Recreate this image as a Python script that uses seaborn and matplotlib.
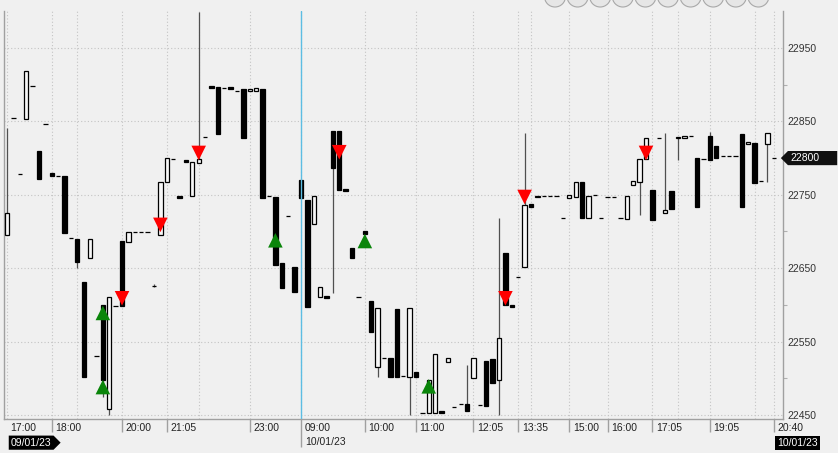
import numpy as np
import pandas as pd
import seaborn as sns
import matplotlib.pyplot as plt
from matplotlib.path import Path
from matplotlib.patches import Ellipse

# свечи
opens = [22695, 22855, 22778, 22853, 22898, 22810, 22847, 22779, 22776, 22776,
         22691, 22690, 22631, 22664, 22530, 22600, 22458, 22599, 22687, 22686,
         22699, 22699, 22699, 22626, 22695, 22767, 22799, 22749, 22798, 22748,
         22793, 22829, 22898, 22897, 22896, 22897, 22891, 22894, 22891, 22892,
         22894, 22748, 22747, 22657, 22721, 22652, 22770, 22743, 22710, 22611,
         22612, 22837, 22837, 22758, 22678, 22611, 22700, 22605, 22515, 22528,
         22528, 22594, 22503, 22502, 22509, 22453, 22453, 22453, 22456, 22522,
         22461, 22465, 22465, 22500, 22464, 22524, 22526, 22498, 22671, 22600,
         22638, 22652, 22738, 22747, 22748, 22748, 22748, 22718, 22746, 22747,
         22767, 22718, 22750, 22718, 22747, 22747, 22718, 22717, 22763, 22767,
         22799, 22757, 22827, 22725, 22755, 22828, 22827, 22830, 22800, 22799,
         22830, 22817, 22803, 22803, 22803, 22833, 22819, 22821, 22769, 22819,
         22800]
closes = [22725, 22855, 22778, 22919, 22898, 22772, 22847, 22775, 22776, 22698,
          22691, 22658, 22502, 22690, 22530, 22498, 22611, 22599, 22599, 22699,
          22699, 22699, 22699, 22626, 22767, 22800, 22799, 22745, 22794, 22795,
          22799, 22829, 22895, 22833, 22896, 22894, 22891, 22827, 22894, 22895,
          22746, 22748, 22654, 22623, 22721, 22618, 22746, 22597, 22748, 22624,
          22609, 22787, 22757, 22755, 22664, 22611, 22696, 22563, 22596, 22528,
          22502, 22502, 22503, 22596, 22502, 22453, 22498, 22533, 22452, 22528,
          22461, 22465, 22455, 22528, 22464, 22462, 22494, 22555, 22600, 22597,
          22638, 22736, 22734, 22749, 22748, 22748, 22748, 22718, 22750, 22767,
          22718, 22748, 22750, 22718, 22747, 22747, 22718, 22748, 22769, 22799,
          22827, 22716, 22827, 22729, 22731, 22829, 22830, 22830, 22733, 22799,
          22797, 22800, 22803, 22803, 22803, 22733, 22822, 22766, 22769, 22834,
          22800]
highs = [22841, 22855, 22778, 22919, 22898, 22810, 22847, 22779, 22776, 22776,
         22691, 22690, 22631, 22690, 22530, 22600, 22611, 22599, 22687, 22699,
         22699, 22699, 22699, 22628, 22767, 22800, 22799, 22749, 22798, 22795,
         22999, 22829, 22898, 22897, 22896, 22897, 22891, 22894, 22894, 22895,
         22894, 22748, 22747, 22657, 22721, 22652, 22770, 22743, 22748, 22624,
         22612, 22837, 22837, 22758, 22678, 22611, 22700, 22605, 22596, 22528,
         22528, 22594, 22503, 22596, 22509, 22453, 22498, 22533, 22456, 22528,
         22461, 22465, 22518, 22528, 22464, 22524, 22526, 22718, 22671, 22600,
         22638, 22834, 22738, 22749, 22748, 22748, 22748, 22718, 22750, 22767,
         22767, 22748, 22750, 22718, 22747, 22747, 22718, 22748, 22769, 22799,
         22827, 22757, 22827, 22834, 22755, 22829, 22830, 22830, 22800, 22799,
         22836, 22817, 22803, 22803, 22803, 22833, 22822, 22821, 22769, 22834,
         22800]
lows = [22695, 22855, 22778, 22853, 22898, 22772, 22847, 22775, 22776, 22698,
        22691, 22650, 22502, 22664, 22530, 22475, 22450, 22599, 22599, 22686,
        22699, 22699, 22699, 22624, 22695, 22767, 22799, 22745, 22794, 22748,
        22793, 22829, 22895, 22833, 22896, 22894, 22891, 22827, 22891, 22892,
        22746, 22748, 22654, 22623, 22721, 22618, 22746, 22597, 22710, 22611,
        22609, 22616, 22757, 22755, 22664, 22611, 22696, 22563, 22502, 22528,
        22502, 22502, 22503, 22450, 22502, 22453, 22453, 22453, 22452, 22522,
        22461, 22465, 22455, 22500, 22464, 22462, 22494, 22450, 22600, 22597,
        22638, 22652, 22734, 22747, 22748, 22748, 22748, 22718, 22746, 22747,
        22718, 22718, 22750, 22718, 22747, 22747, 22718, 22717, 22763, 22722,
        22799, 22716, 22827, 22725, 22731, 22797, 22827, 22830, 22733, 22799,
        22797, 22800, 22803, 22803, 22803, 22733, 22819, 22766, 22769, 22767,
        22800]

# сигналы
sell_idx = [18, 24, 30, 52, 78, 81, 100]
sell_price = [22609, 22709, 22807, 22808, 22609, 22747, 22807]
buy_idx = [15, 15, 42, 56, 66]
buy_price = [22589, 22488, 22688, 22687, 22489]

# ось времени
time_idx = [0, 7, 18, 25, 38, 46, 56, 64, 73, 80, 88, 94, 101, 110, 120]
time_labels = ["17:00", "18:00", "20:00", "21:05", "23:00", "09:00", "10:00",
               "11:00", "12:05", "13:35", "15:00", "16:00", "17:05", "19:05", "20:40"]
extra_grid_idx = [11, 30, 82, 105, 117]
session_break = 46
price_ticks = [22450, 22550, 22650, 22750, 22850, 22950]
price_minor = [22500, 22600, 22700, 22800, 22900]
last_price = 22800

df = pd.DataFrame({"idx": np.arange(len(opens)), "open": opens, "high": highs,
                   "low": lows, "close": closes})
df["up"] = df["close"] >= df["open"]

sns.set_style("white", {"axes.facecolor": "#f0f0f0", "figure.facecolor": "#f0f0f0"})
plt.rcParams["font.family"] = ["Liberation Sans", "DejaVu Sans"]

fig = plt.figure(figsize=(8.38, 4.53), dpi=100)
ax = fig.add_axes([4 / 838, 34 / 453, 779 / 838, 408 / 453])

# фитили и тела
ax.vlines(df["idx"], df["low"], df["high"], color="#505050", lw=0.9, zorder=2)
body_lo = df[["open", "close"]].min(axis=1)
body_h = (df["close"] - df["open"]).abs()
face = np.where(df["up"], "#f7f7f7", "black")
ax.bar(df["idx"], body_h, bottom=body_lo, width=0.68, color=face,
       edgecolor="black", linewidth=0.9, zorder=3)

# стрелки сигналов
sig = pd.DataFrame({"idx": sell_idx + buy_idx, "price": sell_price + buy_price,
                    "kind": ["sell"] * len(sell_idx) + ["buy"] * len(buy_idx)})
sns.scatterplot(data=sig, x="idx", y="price", hue="kind", style="kind",
                markers={"sell": "v", "buy": "^"},
                palette={"sell": "#ff0000", "buy": "#0a850a"},
                s=110, linewidth=0, legend=False, ax=ax, zorder=5)
ax.set_xlabel("")
ax.set_ylabel("")

ax.set_xlim(-0.47, 121.44)
ax.set_ylim(22444.5, 23000.4)

# сетка
grid_kw = dict(color="#c4c4c4", linestyle=(0, (1, 2)), linewidth=0.8)
ax.set_xticks(time_idx)
ax.set_xticks(extra_grid_idx, minor=True)
ax.tick_params(axis="x", which="both", length=0, labelbottom=False)
ax.grid(True, axis="x", which="both", **grid_kw)
ax.yaxis.tick_right()
ax.set_yticks(price_ticks)
ax.set_yticks(price_minor, minor=True)
ax.grid(True, axis="y", which="major", **grid_kw)
ax.tick_params(axis="y", which="major", length=0, pad=3, labelsize=7.5, labelcolor="#333333")
ax.tick_params(axis="y", which="minor", length=3, width=0.8, color="#b0b0b0")
ax.set_axisbelow(True)

for side in ["left", "right", "bottom"]:
    ax.spines[side].set_color("#a0a0a0")
    ax.spines[side].set_linewidth(1)
ax.spines["top"].set_visible(False)

# разрыв сессии
ax.axvline(session_break, color="#5cbde3", lw=1, zorder=4)

# подписи времени
xt = ax.get_xaxis_transform()
for i, lab in zip(time_idx, time_labels):
    if i != 0:
        low_end = -0.069 if i == session_break else -0.032
        ax.vlines(i, low_end, 0, transform=xt, color="#a0a0a0", lw=1, clip_on=False)
    ax.text(i + 0.55, -0.023, lab, transform=xt, ha="left", va="center",
            fontsize=7.5, color="#222222")


def tag_box(direction, right_extra=0):
    def style(x0, y0, width, height, mutation_size):
        pad = 0.2 * mutation_size
        x0, y0 = x0 - pad, y0 - pad
        x1 = x0 + width + 2 * pad + right_extra
        y1 = y0 + height + 2 * pad
        tip = (y1 - y0) / 2
        ym = (y0 + y1) / 2
        if direction == "left":
            verts = [(x0, y0), (x1, y0), (x1, y1), (x0, y1), (x0 - tip, ym), (x0, y0)]
        else:
            verts = [(x0, y0), (x1, y0), (x1 + tip, ym), (x1, y1), (x0, y1), (x0, y0)]
        return Path(verts, closed=True)
    return style


# даты
ax.text(0.6, -0.058, "09/01/23", transform=xt, ha="left", va="center", fontsize=7.5,
        color="white", bbox=dict(boxstyle=tag_box("right"), fc="black", ec="none"))
ax.text(session_break + 0.6, -0.056, "10/01/23", transform=xt, ha="left", va="center",
        fontsize=7.5, color="#222222")
ax.text(120.5, -0.058, "10/01/23", transform=xt, ha="left", va="center", fontsize=7.5,
        color="white", clip_on=False,
        bbox=dict(boxstyle="square,pad=0.2", fc="black", ec="none"))

# последняя цена
ax.text(1.009, last_price, "22800", transform=ax.get_yaxis_transform(), ha="left",
        va="center", fontsize=7.5, color="white",
        bbox=dict(boxstyle=tag_box("left", right_extra=16), fc="#111111", ec="none"))

# кнопки панели сверху
for cx in np.arange(555, 760, 22.6):
    fig.add_artist(Ellipse((cx / 838, 1 + 3.5 / 453), 21 / 838, 21 / 453,
                           transform=fig.transFigure, fc="#e6e6e6", ec="#a8a8a8", lw=0.8))

fig.savefig("out.png", dpi=100, facecolor=fig.get_facecolor())
